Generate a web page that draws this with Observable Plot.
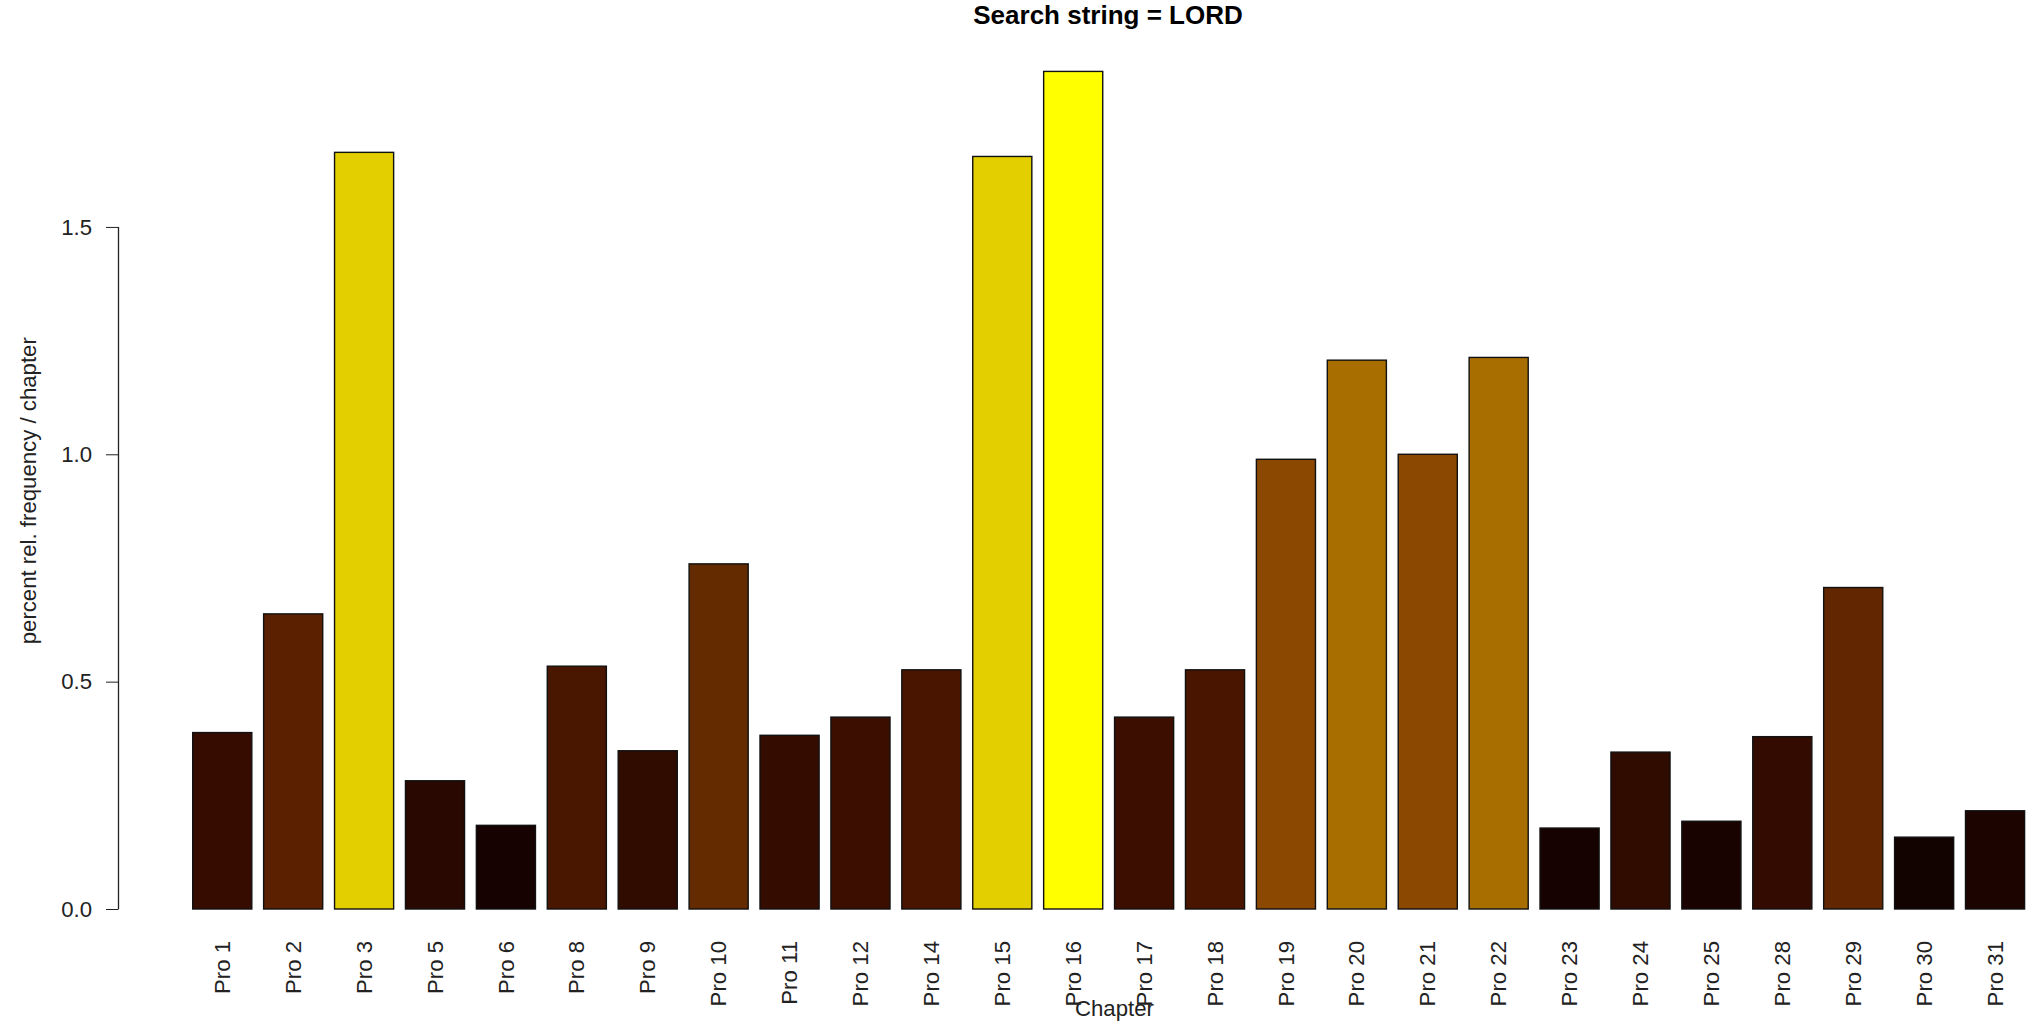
<!DOCTYPE html>
<html>
<head>
<meta charset="utf-8">
<script src="https://cdn.jsdelivr.net/npm/d3@7"></script>
<script src="https://cdn.jsdelivr.net/npm/@observablehq/plot@0.6"></script>
<style>
  html, body { margin: 0; padding: 0; background: #fff; overflow: hidden; }
  #title { width: 2042px; box-sizing: border-box; padding-left: 174px; height: 36px; line-height: 38px;
    text-align: center; font: bold 26px "Liberation Sans", Arial, sans-serif; color: #000; overflow: visible; }
  #chart svg { display: block; max-width: none !important; }
</style>
</head>
<body>
<div id="title"></div>
<div id="chart"></div>
<script>
const titleText = "Search string = LORD";
const xLabel = "Chapter";
const yLabel = "percent rel. frequency / chapter";
const chapters = ["Pro 1","Pro 2","Pro 3","Pro 5","Pro 6","Pro 8","Pro 9","Pro 10","Pro 11","Pro 12","Pro 14","Pro 15","Pro 16","Pro 17","Pro 18","Pro 19","Pro 20","Pro 21","Pro 22","Pro 23","Pro 24","Pro 25","Pro 28","Pro 29","Pro 30","Pro 31"];
const values = [0.388,0.649,1.664,0.282,0.184,0.534,0.348,0.759,0.382,0.422,0.526,1.655,1.842,0.422,0.526,0.989,1.207,1.000,1.213,0.178,0.345,0.193,0.379,0.707,0.158,0.216];
const barColors = ["#370c00","#5a2000","#e3cf00","#280800","#160200","#491600","#300b00","#642a00","#350c00","#3c0e00","#491500","#e3cf00","#ffff00","#3c0e00","#491500","#8a4800","#a86e00","#8a4800","#a86e00","#160200","#300b00","#180300","#330b00","#622600","#120200","#1c0400"];
const yTicks = [0, 0.5, 1.0, 1.5];

const data = chapters.map((c, i) => ({chapter: c, value: values[i], color: barColors[i]}));

document.getElementById("title").textContent = titleText;

const W = 2042, H = 990;
const mLeft = 118.5, mRight = 5.6, mTop = 2, mBottom = 83.5;
const font = "Liberation Sans, Arial, sans-serif";
const fs = 22.2;

const chart = Plot.plot({
  width: W,
  height: H,
  marginLeft: mLeft,
  marginRight: mRight,
  marginTop: mTop,
  marginBottom: mBottom,
  style: {fontFamily: font, fontSize: fs + "px", color: "#222", background: "#fff"},
  x: {type: "band", domain: chapters, padding: 1/6, round: false, insetLeft: 62.4},
  y: {domain: [0, 1.9155], insetBottom: 33.5},
  color: {type: "identity"},
  marks: [
    Plot.barY(data, {x: "chapter", y: "value", fill: "color", stroke: "#111", strokeWidth: 1.4}),
    Plot.axisY({ticks: yTicks, tickSize: 12.5, tickPadding: 14.5, tickFormat: d3.format(".1f"), label: null, fontSize: fs, stroke: "#222"}),
    Plot.axisX({tickSize: 0, tickPadding: -2, tickRotate: -90, label: null, fontSize: fs}),
    Plot.text([yLabel], {frameAnchor: "left", textAnchor: "middle", lineAnchor: "middle", rotate: -90, dx: -90, fontSize: fs, fill: "#222"}),
    Plot.text([xLabel], {frameAnchor: "bottom", textAnchor: "middle", lineAnchor: "middle", dx: 36.5, dy: 66, fontSize: fs, fill: "#222"})
  ]
});

// y axis line spanning the tick range, through Plot's own y scale
const ys = chart.scale("y");
d3.select(chart).append("line")
  .attr("x1", mLeft).attr("x2", mLeft)
  .attr("y1", ys.apply(yTicks[0])).attr("y2", ys.apply(yTicks[yTicks.length - 1]))
  .attr("stroke", "#222").attr("stroke-width", 1.3);

document.getElementById("chart").appendChild(chart);
</script>
</body>
</html>
